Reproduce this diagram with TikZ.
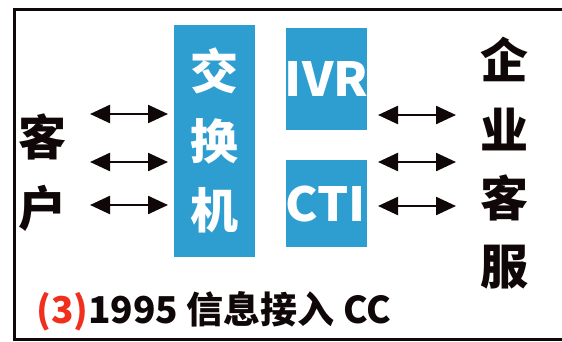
\documentclass[tikz,border=0pt]{standalone}
\usepackage{fontspec}
\newfontfamily\cjk{Noto Sans CJK SC}
\usetikzlibrary{arrows.meta}
\definecolor{boxblue}{RGB}{46,158,208}
\definecolor{txtred}{RGB}{240,48,30}
\definecolor{ink}{RGB}{16,8,8}
\tikzset{
  bluebox/.style={fill=boxblue, draw=none, inner sep=0pt},
  bigchar/.style={font=\cjk\bfseries\fontsize{48}{48}\selectfont, text=ink, inner sep=0pt},
  boxchar/.style={font=\cjk\bfseries\fontsize{48}{48}\selectfont, text=white, inner sep=0pt},
  boxlatin/.style={font=\cjk\bfseries\fontsize{47}{47}\selectfont, text=white, inner sep=0pt, xscale=1.04},
  tiphead/.tip={Triangle[length=20pt 0 0,width=18pt 0 0]},
  dblarrow/.style={ink, line width=2.4pt, tiphead-tiphead},
}
\begin{document}
\begin{tikzpicture}[x=1pt,y=-1pt]
\useasboundingbox (0,0) rectangle (562,341);
% frame
\draw[ink, line width=3pt] (562,9.5) -- (14,9.5) -- (14,339.5) -- (562,339.5);
% blue boxes
\fill[boxblue] (174,25) rectangle (255,257);
\fill[boxblue] (286,28) rectangle (367,130);
\fill[boxblue] (286,160) rectangle (367,247);
\node[boxchar] (c1) at (214,71) {交};
\node[boxchar] (c2) at (214,141) {换};
\node[boxchar] (c3) at (214,210) {机};
\node[boxlatin] (ivr) at (326.5,79) {IVR};
\node[boxlatin] (cti) at (325.5,204) {CTI};
% left text
\node[bigchar] (k1) at (42,137) {客};
\node[bigchar] (k2) at (42,208) {户};
% right text
\node[bigchar] (q1) at (504.5,59) {企};
\node[bigchar] (q2) at (504.5,129) {业};
\node[bigchar] (q3) at (504.5,198) {客};
\node[bigchar] (q4) at (504.5,267) {服};
% arrows
\coordinate (la1) at (90,114); \coordinate (lb1) at (168,114);
\coordinate (la2) at (90,162); \coordinate (lb2) at (168,162);
\coordinate (la3) at (90,205); \coordinate (lb3) at (168,205);
\coordinate (ra1) at (378,115); \coordinate (rb1) at (456,115);
\coordinate (ra2) at (378,162); \coordinate (rb2) at (456,162);
\coordinate (ra3) at (378,206); \coordinate (rb3) at (456,206);
\draw[dblarrow] (la1) -- (lb1);
\draw[dblarrow] (la2) -- (lb2);
\draw[dblarrow] (la3) -- (lb3);
\draw[dblarrow] (ra1) -- (rb1);
\draw[dblarrow] (ra2) -- (rb2);
\draw[dblarrow] (ra3) -- (rb3);
% caption
\node[anchor=base west, inner sep=0pt, font=\cjk\bfseries\fontsize{37}{37}\selectfont, text=ink] (cap) at (36,323) {\textcolor{txtred}{(3)}1995 信息接入 CC};
\end{tikzpicture}
\end{document}
